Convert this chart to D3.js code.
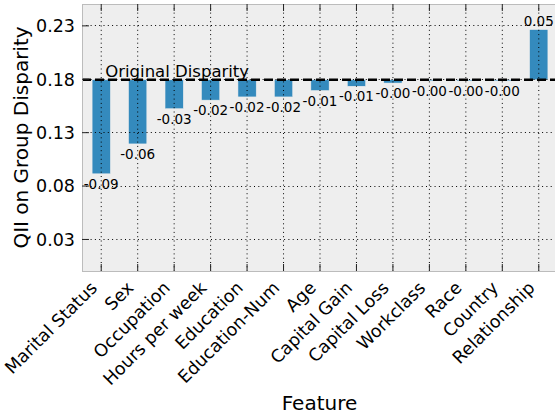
<!DOCTYPE html>
<html>
<head>
<meta charset="utf-8">
<script src="https://cdn.jsdelivr.net/npm/d3@7"></script>
<style>
  body { margin: 0; background: #fff; }
  svg text { font-family: "DejaVu Sans", sans-serif; fill: #000; }
</style>
</head>
<body>
<svg id="chart" width="555" height="416"></svg>
<script>
// Data
const features = ["Marital Status", "Sex", "Occupation", "Hours per week", "Education",
    "Education-Num", "Age", "Capital Gain", "Capital Loss", "Workclass", "Race", "Country", "Relationship"];
const deltas = [-0.088, -0.060, -0.027, -0.019, -0.016, -0.016, -0.010, -0.006, -0.003, -0.001, -0.001, -0.001, 0.047];
const originalDisparity = 0.179;
const yTicks = [0.03, 0.08, 0.13, 0.18, 0.23];
const yDomain = [0, 0.25];

// Plot box
const plotLeft = 82, plotRight = 557, plotTop = 4, plotBottom = 271;

const svg = d3.select("#chart");

const x = d3.scaleBand()
    .domain(features)
    .range([plotLeft + 1, plotRight])
    .paddingInner(0.5)
    .paddingOuter(0.25);

const y = d3.scaleLinear().domain(yDomain).range([plotBottom, plotTop]);

// Background
svg.append("rect")
    .attr("x", plotLeft).attr("y", plotTop)
    .attr("width", plotRight - plotLeft).attr("height", plotBottom - plotTop)
    .attr("fill", "#eeeeee");

// Bars
svg.append("g").selectAll("rect")
    .data(deltas)
    .join("rect")
    .attr("x", (d, i) => x(features[i]))
    .attr("width", x.bandwidth())
    .attr("y", d => y(Math.max(originalDisparity, originalDisparity + d)))
    .attr("height", d => Math.abs(y(originalDisparity) - y(originalDisparity + d)))
    .attr("fill", "#348ABD")
    .attr("stroke", "#eeeeee")
    .attr("stroke-width", 0.5);

// Grid (drawn over the bars)
const grid = svg.append("g").attr("stroke", "#000").attr("stroke-width", 1).attr("stroke-dasharray", "1,3.3");
grid.selectAll(".hg")
    .data(yTicks)
    .join("line")
    .attr("x1", plotLeft).attr("x2", plotRight)
    .attr("y1", d => Math.round(y(d)) + 0.5).attr("y2", d => Math.round(y(d)) + 0.5);
grid.selectAll(".vg")
    .data(features)
    .join("line")
    .attr("x1", d => x(d) + x.bandwidth() / 2).attr("x2", d => x(d) + x.bandwidth() / 2)
    .attr("y1", plotTop).attr("y2", plotBottom);

// Original disparity line
svg.append("line")
    .attr("x1", plotLeft).attr("x2", plotRight)
    .attr("y1", y(originalDisparity)).attr("y2", y(originalDisparity))
    .attr("stroke", "#000")
    .attr("stroke-width", 2.5)
    .attr("stroke-dasharray", "9,4");

svg.append("text")
    .attr("x", x(features[0]) + x.bandwidth() / 2 + 4)
    .attr("y", y(originalDisparity) - 3)
    .attr("font-size", 16.5)
    .text("Original Disparity");

// Value labels
svg.append("g").selectAll("text")
    .data(deltas)
    .join("text")
    .attr("x", (d, i) => x(features[i]) + x.bandwidth() / 2)
    .attr("y", d => d < 0 ? y(originalDisparity + d) + 15 : y(originalDisparity + d) - 4)
    .attr("text-anchor", "middle")
    .attr("font-size", 13.5)
    .text(d => d.toFixed(2));

// Frame
svg.append("rect")
    .attr("x", plotLeft + 0.5).attr("y", plotTop + 0.5)
    .attr("width", plotRight - plotLeft).attr("height", plotBottom - plotTop)
    .attr("fill", "none")
    .attr("stroke", "#bcbcbc")
    .attr("stroke-width", 1);

// Axes (inward ticks, labels placed by hand)
const xAxis = svg.append("g")
    .attr("transform", `translate(0,${plotBottom})`)
    .call(d3.axisBottom(x).tickSize(-7).tickPadding(0));
xAxis.select(".domain").remove();
xAxis.selectAll(".tick line").attr("stroke", "#222");
xAxis.selectAll(".tick text")
    .attr("font-size", 17.5)
    .attr("text-anchor", "end")
    .attr("dy", null)
    .attr("x", 0).attr("y", 0)
    .attr("transform", "translate(-3,18) rotate(-45)");

const xTop = svg.append("g")
    .attr("transform", `translate(0,${plotTop})`)
    .call(d3.axisTop(x).tickSize(-7).tickFormat(""));
xTop.select(".domain").remove();
xTop.selectAll(".tick line").attr("stroke", "#222");

const yAxis = svg.append("g")
    .attr("transform", `translate(${plotLeft},0)`)
    .call(d3.axisLeft(y).tickValues(yTicks).tickSize(-7).tickPadding(7).tickFormat(d3.format(".2f")));
yAxis.select(".domain").remove();
yAxis.selectAll(".tick line").attr("stroke", "#222");
yAxis.selectAll(".tick text").attr("font-size", 17.5).attr("dy", "0.36em");

// Axis titles
svg.append("text")
    .attr("x", (plotLeft + plotRight) / 2)
    .attr("y", 410)
    .attr("text-anchor", "middle")
    .attr("font-size", 20)
    .text("Feature");

svg.append("text")
    .attr("transform", `translate(28,${(plotTop + plotBottom) / 2}) rotate(-90)`)
    .attr("text-anchor", "middle")
    .attr("font-size", 20)
    .text("QII on Group Disparity");

svg.selectAll(".tick text").attr("fill", "#000");
</script>
</body>
</html>
